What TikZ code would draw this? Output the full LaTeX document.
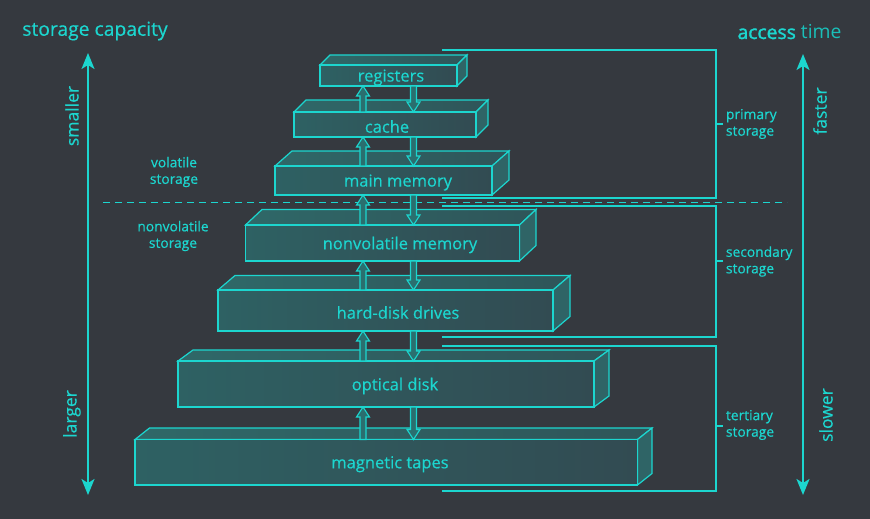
\documentclass[tikz,border=0pt]{standalone}
\usepackage{fontspec}
\setmainfont{Open Sans}[FakeBold=0.4]
\newfontfamily\accfont[FakeBold=1.6]{Open Sans}
\newfontfamily\timefont{Open Sans}
\usetikzlibrary{calc,arrows.meta}
\definecolor{bg}{HTML}{35393F}
\definecolor{cy}{HTML}{1CD6CF}
\definecolor{cydim}{HTML}{1ABFB9}
\definecolor{frontL}{HTML}{2E6163}
\definecolor{frontR}{HTML}{324B52}
\definecolor{topL}{HTML}{2F6868}
\definecolor{topR}{HTML}{2F5559}
\definecolor{sidec}{HTML}{2F6466}
\definecolor{arrfill}{HTML}{2A6F6F}
% name, L, R, T, B, dx, dy, label x, text
\newcommand\SBox[9]{%
  \path[face, left color=topL, right color=topR] (#2,#4) -- (#2+#6,#4-#7) -- (#3+#6,#4-#7) -- (#3,#4) -- cycle;
  \path[face, fill=sidec] (#3,#4) -- (#3+#6,#4-#7) -- (#3+#6,#5-#7) -- (#3,#5) -- cycle;
  \node[front, minimum width={#3-#2}, minimum height={#5-#4}] (#1) at ({(#2+#3)/2},{(#4+#5)/2}) {};
  \node[boxlab] (#1-l) at (#8,{(#4+#5)/2+2}) {#9};
}
\newcommand\UpArr[2]{%
  \path[arr] let \p1=(#1), \p2=(#2) in
    (\x1-3pt,\y1) -- (\x1-3pt,\y2-10pt) -- (\x1-6.5pt,\y2-10pt) -- (\x1,\y2)
    -- (\x1+6.5pt,\y2-10pt) -- (\x1+3pt,\y2-10pt) -- (\x1+3pt,\y1) -- cycle;
}
\newcommand\DnArr[2]{%
  \path[arr] let \p1=(#1), \p2=(#2) in
    (\x1-3pt,\y1) -- (\x1-3pt,\y2+10pt) -- (\x1-6.5pt,\y2+10pt) -- (\x1,\y2)
    -- (\x1+6.5pt,\y2+10pt) -- (\x1+3pt,\y2+10pt) -- (\x1+3pt,\y1) -- cycle;
}
\begin{document}
\begin{tikzpicture}[x=1pt,y=-1pt,
  every node/.style={text=cy, inner sep=0pt, outer sep=0pt},
  front/.style={draw=cy, line width=1.2pt, left color=frontL, right color=frontR},
  face/.style={draw=cy, line width=1.2pt, line join=miter},
  boxlab/.style={font=\fontsize{16.5}{20}\selectfont},
  smalllab/.style={font=\fontsize{13.8}{16.5}\selectfont},
  titlelab/.style={font=\fontsize{19.3}{23}\selectfont},
  axlab/.style={font=\fontsize{17.5}{21}\selectfont, rotate=90},
  brk/.style={draw=cy, line width=2pt},
  axisline/.style={draw=cy, line width=2pt, {Stealth[length=16pt,width=13pt,inset=4pt]}-{Stealth[length=16pt,width=13pt,inset=4pt]}},
  arr/.style={draw=cy, fill=arrfill, line width=1.1pt, line join=miter},
  seploc/.style={draw=cy, line width=1.5pt, dash pattern=on 7pt off 5pt}
]
\fill[bg] (0,0) rectangle (870,519);
\useasboundingbox (0,0) rectangle (870,519);

% titles
\node[titlelab] (tcap) at (95,31) {storage capacity};
\node[titlelab] (tacc) at (789.5,32) {{\accfont access} {\timefont\color{cydim}time}};

% left axis
\coordinate (la1) at (88,53);
\coordinate (la2) at (88,495);
\draw[axisline] (la1) -- (la2);
\node[axlab] (lsm) at (72,116) {smaller};
\node[axlab] (llg) at (72,414) {larger};

% right axis
\coordinate (ra1) at (803,54);
\coordinate (ra2) at (803,495);
\draw[axisline] (ra1) -- (ra2);
\node[axlab] (rfa) at (820,111) {faster};
\node[axlab] (rsl) at (826,415) {slower};

% separator
\coordinate (s1) at (103,202.5);
\coordinate (s2) at (787,202.5);
\draw[seploc] (s1) -- (s2);

\node[smalllab, align=center] (vol) at (174,172) {volatile\\storage};
\node[smalllab, align=center] (nvol) at (173,236) {nonvolatile\\storage};

% brackets
\coordinate (pA) at (442,50);  \coordinate (pB) at (716,50);
\coordinate (pC) at (716,198); \coordinate (pD) at (442,198);
\draw[brk] (pA) -- (pB) -- (pC) -- (pD);
\coordinate (pt1) at (716,124); \coordinate (pt2) at (723,124);
\draw[brk] (pt1) -- (pt2);
\node[smalllab, align=left, anchor=west] (plab) at (726,124) {primary\\storage};

\coordinate (sA) at (442,205.7); \coordinate (sB) at (716,205.7);
\coordinate (sC) at (716,336.5); \coordinate (sD) at (442,336.5);
\draw[brk] (sA) -- (sB) -- (sC) -- (sD);
\coordinate (st1) at (716,260.7); \coordinate (st2) at (723,260.7);
\draw[brk] (st1) -- (st2);
\node[smalllab, align=left, anchor=west] (slab) at (726,261.5) {secondary\\storage};

\coordinate (tA) at (442,346); \coordinate (tB) at (716,346);
\coordinate (tC) at (716,490.7); \coordinate (tD) at (442,490.7);
\draw[brk] (tA) -- (tB) -- (tC) -- (tD);
\coordinate (tt1) at (716,425.7); \coordinate (tt2) at (723,425.7);
\draw[brk] (tt1) -- (tt2);
\node[smalllab, align=left, anchor=west] (tlab) at (726,425) {tertiary\\storage};

% boxes
\SBox{reg}{320}{457}{65}{86}{10}{10}{391}{registers}
\SBox{cac}{294}{476}{112}{137}{12}{12}{387}{cache}
\SBox{mm}{275}{492}{166}{195}{17}{15}{398}{main memory}
\SBox{nv}{245.5}{519.5}{225}{261}{16.5}{15.5}{400}{nonvolatile memory}
\SBox{hd}{218}{553}{290}{331}{17}{14.5}{398}{hard-disk drives}
\SBox{od}{178}{594}{361}{407}{15}{11}{395}{optical disk}
\SBox{mt}{135}{637.5}{439.5}{485}{14.5}{11.5}{390}{magnetic tapes}

% arrows
\coordinate (cu) at (363,0);
\coordinate (cd) at (413.5,0);
\UpArr{cac.north -| cu}{reg.south -| cu}
\DnArr{reg.south -| cd}{cac.north -| cd}
\UpArr{mm.north -| cu}{cac.south -| cu}
\DnArr{cac.south -| cd}{mm.north -| cd}
\UpArr{nv.north -| cu}{mm.south -| cu}
\DnArr{mm.south -| cd}{nv.north -| cd}
\UpArr{hd.north -| cu}{nv.south -| cu}
\DnArr{nv.south -| cd}{hd.north -| cd}
\UpArr{od.north -| cu}{hd.south -| cu}
\DnArr{hd.south -| cd}{od.north -| cd}
\UpArr{mt.north -| cu}{od.south -| cu}
\DnArr{od.south -| cd}{mt.north -| cd}
\end{tikzpicture}
\end{document}
